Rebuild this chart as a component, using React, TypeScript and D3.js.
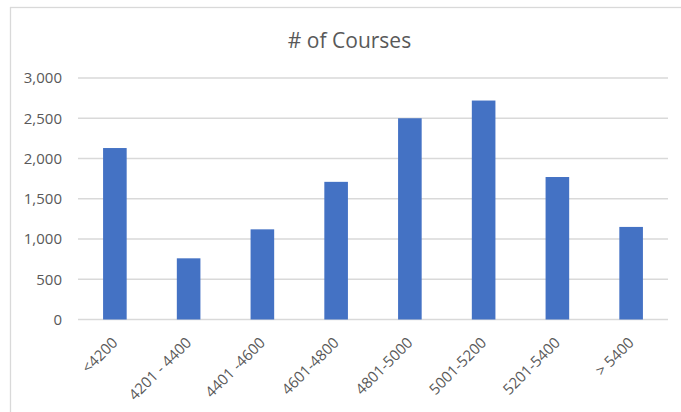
import React from "react";
import * as d3 from "d3";

const categories: string[] = ["<4200", "4201 - 4400", "4401 -4600", "4601-4800", "4801-5000", "5001-5200", "5201-5400", "> 5400"];
const courses: number[] = [2130, 760, 1120, 1710, 2500, 2720, 1770, 1150];
const yTicks: number[] = [0, 500, 1000, 1500, 2000, 2500, 3000];
const title = "# of Courses";

const W = 681;
const H = 412;
const FONT = "'Open Sans', 'Noto Sans', sans-serif";
const TEXT = "#595959";
const GRID = "#d9d9d9";
const BAR = "#4472C4";

export default function App() {
  const left = 78, right = 668, top = 78, bottom = 319.5;
  const x = d3.scaleBand<string>().domain(categories).range([left, right]).paddingInner(0.68).paddingOuter(0.34);
  const y = d3.scaleLinear().domain([0, 3000]).range([bottom, top]);
  const fmt = d3.format(",");

  return (
    <svg width={W} height={H} style={{ position: "absolute", left: 0, top: 0, background: "#fff" }} fontFamily={FONT}>
      <rect x={10.5} y={7.5} width={690} height={430} fill="#fff" stroke={GRID} strokeWidth={1.3} />
      <text x={349.5} y={47.5} textAnchor="middle" fontSize={21} fill={TEXT}>{title}</text>
      {yTicks.map((t) => (
        <g key={t}>
          <line x1={left} x2={right} y1={y(t)} y2={y(t)} stroke={GRID} strokeWidth={1.3} />
          <text x={62} y={y(t)} dy="0.35em" textAnchor="end" fontSize={15} fill={TEXT}>{fmt(t)}</text>
        </g>
      ))}
      {categories.map((c, i) => (
        <rect key={c} x={x(c)} y={y(courses[i])} width={x.bandwidth()} height={y(0) - y(courses[i])} fill={BAR} />
      ))}
      {categories.map((c) => {
        const cx = (x(c) as number) + x.bandwidth() / 2;
        const ly = 340;
        return (
          <text key={"l" + c} x={cx} y={ly} dy="0.35em" textAnchor="end" fontSize={15} fill={TEXT}
            transform={`rotate(-45 ${cx} ${ly})`}>{c}</text>
        );
      })}
    </svg>
  );
}
